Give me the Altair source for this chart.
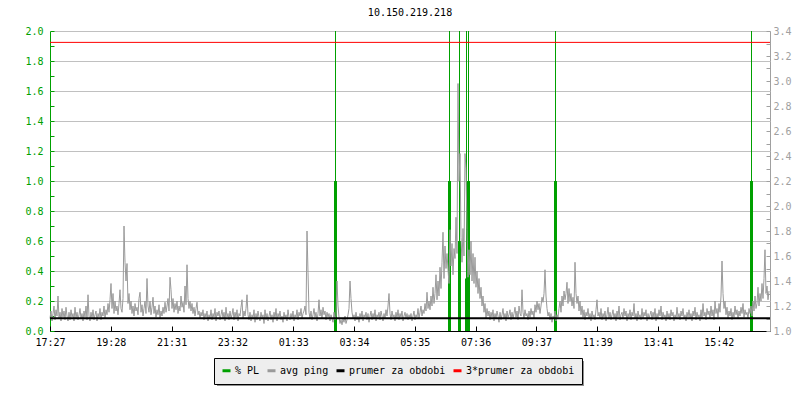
import altair as alt
import pandas as pd

FONT = "DejaVu Sans Mono"

title_text = "10.150.219.218"

# x axis: minutes from the start of the 24 h window
span_minutes = 1440
x_tick_step = 121.6
x_tick_labels = ["17:27", "19:28", "21:31", "23:32", "01:33", "03:34",
                 "05:35", "07:36", "09:37", "11:39", "13:41", "15:42"]

# avg ping (right axis), one value every 2 minutes
ping_step = 2
ping_avg = [
    1.10, 1.16, 1.08, 1.14, 1.20, 1.09, 1.17, 1.12, 1.28, 1.10, 1.15, 1.08, 1.18, 1.11, 1.16, 1.09, 1.19, 1.12, 1.08, 1.15,
    1.09, 1.17, 1.11, 1.14, 1.08, 1.19, 1.10, 1.15, 1.09, 1.13, 1.18, 1.10, 1.14, 1.08, 1.16, 1.11, 1.20, 1.09, 1.29, 1.12,
    1.08, 1.15, 1.10, 1.17, 1.09, 1.13, 1.16, 1.08, 1.14, 1.11, 1.18, 1.09, 1.15, 1.12, 1.20, 1.10, 1.17, 1.13, 1.22, 1.15,
    1.25, 1.38, 1.18, 1.30, 1.14, 1.24, 1.16, 1.20, 1.13, 1.22, 1.33, 1.18, 1.15, 1.26, 1.84, 1.55, 1.40, 1.54, 1.22, 1.30,
    1.17, 1.24, 1.14, 1.20, 1.12, 1.22, 1.16, 1.19, 1.13, 1.26, 1.31, 1.15, 1.21, 1.12, 1.18, 1.24, 1.14, 1.42, 1.20, 1.15,
    1.24, 1.13, 1.19, 1.27, 1.14, 1.20, 1.11, 1.17, 1.13, 1.21, 1.10, 1.16, 1.12, 1.19, 1.14, 1.23, 1.15, 1.20, 1.26, 1.16,
    1.43, 1.33, 1.18, 1.26, 1.15, 1.22, 1.17, 1.24, 1.14, 1.20, 1.16, 1.28, 1.19, 1.23, 1.15, 1.36, 1.21, 1.53, 1.26, 1.18,
    1.24, 1.16, 1.22, 1.14, 1.19, 1.12, 1.18, 1.23, 1.13, 1.16, 1.10, 1.15, 1.12, 1.17, 1.09, 1.14, 1.11, 1.16, 1.08, 1.13,
    1.10, 1.17, 1.09, 1.14, 1.11, 1.18, 1.08, 1.15, 1.12, 1.16, 1.09, 1.13, 1.17, 1.10, 1.15, 1.08, 1.19, 1.11, 1.14, 1.09,
    1.16, 1.10, 1.13, 1.18, 1.09, 1.15, 1.11, 1.17, 1.08, 1.14, 1.12, 1.19, 1.25, 1.10, 1.16, 1.12, 1.18, 1.29, 1.13, 1.09,
    1.15, 1.08, 1.13, 1.10, 1.17, 1.07, 1.14, 1.09, 1.16, 1.11, 1.08, 1.15, 1.10, 1.13, 1.06, 1.17, 1.09, 1.14, 1.08, 1.12,
    1.16, 1.09, 1.13, 1.07, 1.15, 1.10, 1.18, 1.08, 1.14, 1.11, 1.16, 1.09, 1.12, 1.07, 1.15, 1.10, 1.13, 1.08, 1.17, 1.11,
    1.09, 1.14, 1.10, 1.16, 1.08, 1.13, 1.11, 1.17, 1.09, 1.15, 1.12, 1.18, 1.10, 1.14, 1.16, 1.20, 1.13, 1.80, 1.47, 1.15,
    1.10, 1.16, 1.09, 1.13, 1.18, 1.11, 1.15, 1.08, 1.14, 1.25, 1.12, 1.17, 1.10, 1.19, 1.13, 1.16, 1.09, 1.15, 1.11, 1.14,
    1.08, 1.13, 1.10, 1.07, 1.15, 1.09, 1.12, 1.40, 1.20, 1.11, 1.06, 1.09, 1.05, 1.10, 1.07, 1.12, 1.06, 1.09, 1.13, 1.18,
    1.40, 1.26, 1.15, 1.10, 1.13, 1.08, 1.15, 1.09, 1.12, 1.07, 1.14, 1.10, 1.16, 1.08, 1.13, 1.11, 1.15, 1.09, 1.14, 1.07,
    1.12, 1.16, 1.09, 1.14, 1.10, 1.17, 1.08, 1.13, 1.11, 1.15, 1.09, 1.16, 1.12, 1.08, 1.14, 1.10, 1.17, 1.12, 1.20, 1.30,
    1.14, 1.09, 1.16, 1.11, 1.13, 1.08, 1.15, 1.10, 1.17, 1.09, 1.14, 1.11, 1.16, 1.08, 1.12, 1.15, 1.10, 1.14, 1.09, 1.13,
    1.10, 1.14, 1.08, 1.12, 1.16, 1.09, 1.13, 1.11, 1.18, 1.10, 1.15, 1.20, 1.12, 1.17, 1.14, 1.22, 1.16, 1.31, 1.18, 1.24,
    1.17, 1.28, 1.20, 1.35, 1.22, 1.30, 1.45, 1.25, 1.40, 1.28, 1.51, 1.34, 1.55, 1.79, 1.42, 1.68, 1.50, 1.62, 1.49, 1.38,
    1.81, 1.52, 1.70, 1.45, 1.66, 1.58, 1.91, 1.62, 2.98, 2.20, 2.42, 1.75, 1.55, 1.82, 1.60, 2.42, 2.30, 1.81, 1.43, 1.65,
    1.45, 1.72, 1.40, 1.62, 1.38, 1.59, 1.35, 1.48, 1.30, 1.42, 1.26, 1.35, 1.20, 1.28, 1.15, 1.22, 1.10, 1.18, 1.12, 1.16,
    1.09, 1.15, 1.11, 1.17, 1.08, 1.14, 1.10, 1.16, 1.12, 1.07, 1.15, 1.09, 1.13, 1.18, 1.10, 1.14, 1.08, 1.16, 1.11, 1.13,
    1.17, 1.09, 1.15, 1.10, 1.14, 1.19, 1.11, 1.16, 1.09, 1.20, 1.14, 1.12, 1.33, 1.15, 1.10, 1.17, 1.12, 1.14, 1.09, 1.16,
    1.11, 1.18, 1.13, 1.16, 1.10, 1.21, 1.15, 1.24, 1.17, 1.22, 1.14, 1.20, 1.27, 1.23, 1.30, 1.49, 1.28, 1.18, 1.12, 1.15,
    1.09, 1.14, 1.07, 1.12, 1.10, 1.16, 1.08, 1.13, 1.11, 1.18, 1.24, 1.15, 1.28, 1.20, 1.32, 1.25, 1.30, 1.39, 1.22, 1.34,
    1.24, 1.30, 1.20, 1.27, 1.18, 1.55, 1.30, 1.22, 1.28, 1.16, 1.24, 1.13, 1.20, 1.11, 1.17, 1.09, 1.15, 1.12, 1.18, 1.10,
    1.14, 1.08, 1.16, 1.11, 1.13, 1.09, 1.17, 1.25, 1.12, 1.15, 1.10, 1.18, 1.09, 1.14, 1.11, 1.16, 1.08, 1.13, 1.19, 1.10,
    1.15, 1.09, 1.13, 1.17, 1.10, 1.14, 1.08, 1.16, 1.11, 1.20, 1.09, 1.13, 1.15, 1.10, 1.18, 1.12, 1.16, 1.08, 1.14, 1.11,
    1.17, 1.09, 1.15, 1.12, 1.22, 1.10, 1.14, 1.08, 1.16, 1.11, 1.13, 1.09, 1.18, 1.10, 1.15, 1.12, 1.17, 1.08, 1.14, 1.10,
    1.13, 1.16, 1.09, 1.15, 1.11, 1.18, 1.08, 1.14, 1.10, 1.17, 1.12, 1.20, 1.09, 1.15, 1.11, 1.13, 1.08, 1.16, 1.10, 1.14,
    1.09, 1.17, 1.12, 1.15, 1.08, 1.13, 1.10, 1.19, 1.11, 1.14, 1.09, 1.16, 1.12, 1.18, 1.10, 1.13, 1.08, 1.15, 1.11, 1.17,
    1.10, 1.14, 1.08, 1.16, 1.12, 1.19, 1.09, 1.15, 1.11, 1.13, 1.08, 1.17, 1.10, 1.22, 1.12, 1.15, 1.09, 1.18, 1.13, 1.16,
    1.10, 1.20, 1.12, 1.17, 1.09, 1.24, 1.14, 1.18, 1.11, 1.22, 1.15, 1.28, 1.56, 1.30, 1.18, 1.24, 1.13, 1.19, 1.10, 1.16,
    1.12, 1.18, 1.09, 1.15, 1.11, 1.20, 1.13, 1.17, 1.10, 1.16, 1.12, 1.19, 1.14, 1.22, 1.11, 1.17, 1.13, 1.15, 1.10, 1.18,
    1.14, 1.20, 1.12, 1.24, 1.16, 1.28, 1.18, 1.22, 1.35, 1.20, 1.30, 1.24, 1.38, 1.26, 1.42, 1.65, 1.30, 1.36, 1.25, 1.32,
]

# packet loss events (left axis)
pl_minutes = [571, 799, 819, 833, 837, 1011, 1403]
pl_values = [1.0, 1.0, 0.6, 0.35, 1.0, 1.0, 1.0]

# period average of ping
period_avg = 1.103

series_names = ["% PL", "avg ping", "prumer za obdobi", "3*prumer za obdobi"]
series_colors = ["#00a000", "#9a9a9a", "#000000", "#ff0000"]

GREEN = "#00a000"
GRAY = "#a0a0a0"

ping_df = pd.DataFrame({
    "t": [i * ping_step for i in range(len(ping_avg))],
    "ping": ping_avg,
    "series": ["avg ping"] * len(ping_avg),
})
pl_df = pd.DataFrame({"t": pl_minutes, "pl": pl_values, "zero": [0.0] * len(pl_minutes)})
avg_df = pd.DataFrame({"avg": [period_avg], "avg3": [3 * period_avg]})
shadow_df = pd.DataFrame({"k": [0]})

x_values = [round(i * x_tick_step, 1) for i in range(len(x_tick_labels))] + [span_minutes]
labels_js = "[" + ",".join("'" + s + "'" for s in x_tick_labels) + "]"

x_axis = alt.Axis(
    values=x_values,
    labelExpr=f"datum.value >= {span_minutes} ? '' : {labels_js}[round(datum.value / {x_tick_step})]",
    title=None, domain=False, offset=-5, tickSize=5,
    tickColor={"condition": {"test": f"datum.value >= {span_minutes}", "value": "transparent"}, "value": "black"},
    grid=True,
    gridColor={"condition": [{"test": "datum.value == 0", "value": GREEN},
                             {"test": f"datum.value >= {span_minutes}", "value": GRAY}],
               "value": "transparent"},
    labelFont=FONT, labelFontSize=10, labelColor="black", labelPadding=6,
    labelFlush=False, labelOverlap=False,
)
x_enc = alt.X("t:Q", scale=alt.Scale(domain=[0, span_minutes], nice=False, zero=False), axis=x_axis)

pl_ticks = [round(k * 0.1, 1) for k in range(21)]
pl_scale = alt.Scale(domain=[0, 2.0], nice=False, zero=False)
pl_axis = alt.Axis(
    values=pl_ticks, orient="left", offset=-4, tickSize=4, domain=False,
    tickColor=GREEN, labelColor=GREEN,
    labelExpr="round(datum.value * 10) % 2 == 0 ? format(datum.value, '.1f') : ''",
    grid=True,
    gridColor={"condition": [{"test": "datum.value == 0", "value": "black"},
                             {"test": "round(datum.value * 10) % 2 == 0", "value": "#c0c0c0"}],
               "value": "transparent"},
    labelPadding=7, labelFont=FONT, labelFontSize=10, title=None, labelOverlap=False,
)

ping_ticks = [round(1.0 + k * 0.1, 1) for k in range(25)]
ping_scale = alt.Scale(domain=[1.0, 3.4], nice=False, zero=False)
ping_axis = alt.Axis(
    values=ping_ticks, orient="right", offset=-4, tickSize=4, domain=False,
    tickColor=GRAY, labelColor=GRAY,
    labelExpr="round(datum.value * 10) % 2 == 0 ? format(datum.value, '.1f') : ''",
    grid=False, labelPadding=3, labelFont=FONT, labelFontSize=10, title=None, labelOverlap=False,
)

shadow = alt.Chart(shadow_df).mark_rect(color="#909090").encode(
    x=alt.value(167), x2=alt.value(534), y=alt.value(330), y2=alt.value(355)
)
pl_thin = alt.Chart(pl_df).mark_rule(color=GREEN, strokeWidth=1).encode(
    x=x_enc, y=alt.Y("zero:Q", scale=pl_scale, axis=pl_axis), y2=alt.value(0)
)
pl_thick = alt.Chart(pl_df).mark_rule(color=GREEN, strokeWidth=3).encode(
    x=x_enc, y=alt.Y("zero:Q", scale=pl_scale, axis=pl_axis), y2="pl:Q"
)

ping_line = alt.Chart(ping_df).mark_line(strokeWidth=1).encode(
    x=x_enc,
    y=alt.Y("ping:Q", scale=ping_scale, axis=ping_axis),
    color=alt.Color(
        "series:N",
        scale=alt.Scale(domain=series_names, range=series_colors),
        legend=alt.Legend(
            title=None, orient="none", legendX=164, legendY=327,
            direction="horizontal", columns=4, symbolType="stroke",
            symbolSize=64, symbolStrokeWidth=3, labelFont=FONT, labelFontSize=10,
            labelColor="black", labelOffset=3, columnPadding=1, padding=7,
            fillColor="#eeeeee", strokeColor="black", cornerRadius=0,
        ),
    ),
)
avg_rule = alt.Chart(avg_df).mark_rule(color="black", strokeWidth=2).encode(
    y=alt.Y("avg:Q", scale=ping_scale, axis=ping_axis)
)
avg3_rule = alt.Chart(avg_df).mark_rule(color="#ff0000", strokeWidth=1).encode(
    y=alt.Y("avg3:Q", scale=ping_scale, axis=ping_axis)
)

pl_layer = alt.layer(shadow, pl_thin, pl_thick)
ping_layer = alt.layer(ping_line, avg_rule, avg3_rule)

chart = (
    alt.layer(pl_layer, ping_layer)
    .resolve_scale(y="independent")
    .properties(
        width=720, height=300,
        title=alt.Title(title_text, font=FONT, fontSize=10, fontWeight="normal",
                        color="black", anchor="middle", offset=8),
        autosize=alt.AutoSizeParams(type="none"),
        padding={"left": 42, "top": 23, "right": 22, "bottom": 61},
        background="white",
    )
    .configure_view(strokeWidth=0)
)

chart.save("out.html", embed_options={"renderer": "svg", "actions": False})
